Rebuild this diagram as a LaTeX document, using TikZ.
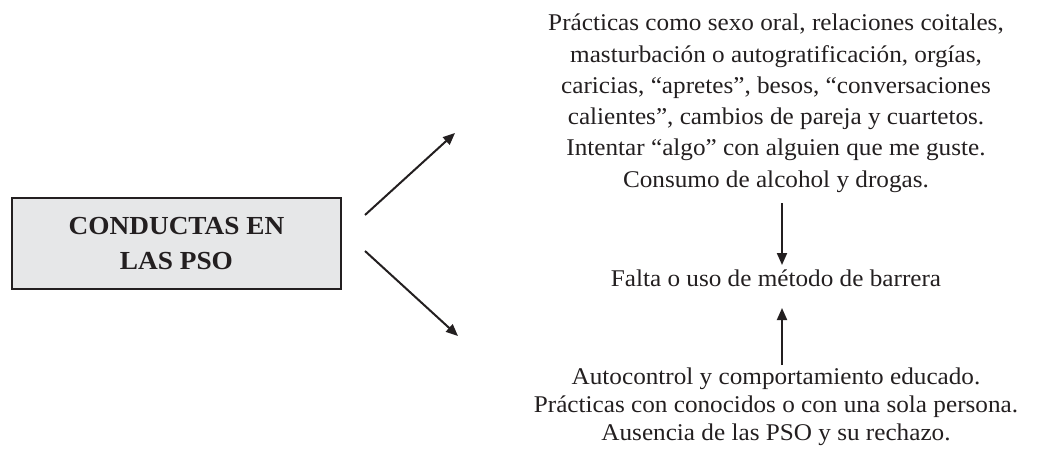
\documentclass[tikz,border=0pt]{standalone}
\usepackage{fontspec}
\setmainfont{Liberation Serif}[FakeStretch=1.05]
\usetikzlibrary{arrows.meta}
\definecolor{boxfill}{HTML}{E6E7E8}
\definecolor{ink}{HTML}{231F20}
\begin{document}
\begin{tikzpicture}[x=1pt,y=-1pt,
  txt/.style={align=center,inner sep=0pt,text=ink},
  toptxt/.style={txt,font=\fontsize{24}{31.3}\selectfont},
  bottxt/.style={txt,font=\fontsize{24}{28}\selectfont},
  arr/.style={draw=ink,line width=2pt,-{Triangle[length=12pt,width=10pt]}},
  mainbox/.style={draw=ink,line width=2.5pt,fill=boxfill,minimum width=329pt,minimum height=91pt,align=center,text=ink,font=\fontsize{26}{35}\selectfont\bfseries}]
\useasboundingbox (0,0) rectangle (1038,452);
\node[mainbox] (box) at (176.5,243.5) {CONDUCTAS EN\\LAS PSO};
\node[toptxt] (top) at (776,103.2) {Prácticas como sexo oral, relaciones coitales,\\masturbación o autogratificación, orgías,\\caricias, “apretes”, besos, “conversaciones\\calientes”, cambios de pareja y cuartetos.\\Intentar “algo” con alguien que me guste.\\Consumo de alcohol y drogas.};
\node[txt,font=\fontsize{24}{28}\selectfont] (mid) at (776,278.5) {Falta o uso de método de barrera};
\node[bottxt] (bot) at (776,406.5) {Autocontrol y comportamiento educado.\\Prácticas con conocidos o con una sola persona.\\Ausencia de las PSO y su rechazo.};
\coordinate (a1s) at (365,215);
\coordinate (a1e) at (455,133);
\coordinate (a2s) at (365,251);
\coordinate (a2e) at (458,336);
\coordinate (d1s) at (782,203);
\coordinate (d1e) at (782,265);
\coordinate (u1s) at (782,365);
\coordinate (u1e) at (782,308);
\draw[arr] (a1s) -- (a1e);
\draw[arr] (a2s) -- (a2e);
\draw[arr] (d1s) -- (d1e);
\draw[arr] (u1s) -- (u1e);
\end{tikzpicture}
\end{document}
